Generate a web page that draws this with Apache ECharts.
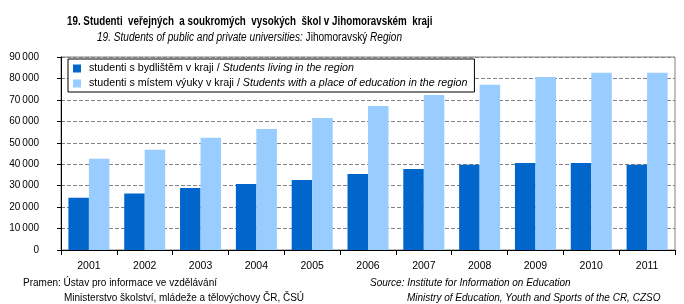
<!DOCTYPE html>
<html><head><meta charset="utf-8">
<script src="https://cdn.jsdelivr.net/npm/echarts@6/dist/echarts.min.js"></script>
<style>html,body{margin:0;padding:0;background:#fff}#c{width:684px;height:304px}</style>
</head><body><div id="c"></div>
<script>
var years = ['2001','2002','2003','2004','2005','2006','2007','2008','2009','2010','2011'];
var living = [24400, 26300, 28900, 30800, 32600, 35400, 37800, 39800, 40600, 40600, 39800];
var educated = [42600, 46800, 52400, 56400, 61600, 67200, 72300, 77100, 80700, 82600, 82600];
var yTicks = [0, 10000, 20000, 30000, 40000, 50000, 60000, 70000, 80000, 90000];
var seriesNames = ['studenti s bydlištěm v kraji', 'studenti s místem výuky v kraji'];
var seriesNamesEn = ['Students living in the region', 'Students with a place of education in the region'];

var F = '"Liberation Sans", Arial, sans-serif';
var chart = echarts.init(document.getElementById('c'));
chart.setOption({
  animation: false,
  backgroundColor: '#fff',
  textStyle: {fontFamily: F},
  legend: {
    orient: 'vertical', left: 68, top: 59,
    itemWidth: 8, itemHeight: 8, itemGap: 4,
    padding: [4, 7, 3, 5],
    borderColor: '#000', borderWidth: 1, borderRadius: 0,
    backgroundColor: '#fff',
    icon: 'rect',
    data: seriesNames,
    formatter: function (name) {
      var i = seriesNames.indexOf(name);
      return '{n|' + name + ' / }{i|' + seriesNamesEn[i] + '}';
    },
    textStyle: {
      padding: [0, 0, 0, 3],
      rich: {
        n: {fontFamily: F, fontSize: 10.7, color: '#000'},
        i: {fontFamily: F, fontSize: 10.7, fontStyle: 'italic', color: '#000'}
      }
    }
  },
  grid: {left: 61, right: 9, top: 57, bottom: 54, show: true, borderColor: '#808080', borderWidth: 1, containLabel: false},
  xAxis: {
    type: 'category', data: years,
    axisLine: {lineStyle: {color: '#000', width: 1}},
    axisTick: {show: true, length: 5, lineStyle: {color: '#000'}},
    axisLabel: {fontFamily: F, fontSize: 10.5, color: '#000', margin: 11}
  },
  yAxis: {
    type: 'value', min: 0, max: 90000, interval: 10000,
    axisLine: {show: true, lineStyle: {color: '#000'}},
    axisTick: {show: true, length: 4, lineStyle: {color: '#000'}},
    axisLabel: {fontFamily: F, fontSize: 10, color: '#000', margin: 22,
      formatter: function (v) { return v === 0 ? '0' : String(v).replace(/\B(?=(\d{3})+(?!\d))/g, '\u2009'); }},
    splitLine: {lineStyle: {color: '#808080', type: [4, 2], width: 1}}
  },
  series: [{
    name: seriesNames[0], type: 'bar', data: living,
    itemStyle: {color: '#0066CC'}, barWidth: 20.5, barGap: '0%'
  }, {
    name: seriesNames[1], type: 'bar', data: educated,
    itemStyle: {color: '#99CCFF'}, barWidth: 20.5, barGap: '0%'
  }],
  graphic: [
    {type: 'text', x: 67, y: 22, scaleX: 0.785, style: {
      text: '19. Studenti  veřejných  a soukromých  vysokých  škol v Jihomoravském  kraji',
      font: 'bold 12.5px ' + F, fill: '#000', verticalAlign: 'middle'}},
    {type: 'text', x: 97, y: 38, scaleX: 0.807, style: {
      text: '{i|19. Students of public and private universities: }{n|Jihomoravský }{i|Region}',
      verticalAlign: 'middle',
      rich: {
        i: {fontFamily: F, fontSize: 12.5, fontStyle: 'italic', fill: '#000'},
        n: {fontFamily: F, fontSize: 12.5, fill: '#000'}
      }}},
    {type: 'text', left: 23, top: 278, style: {text: 'Pramen: Ústav pro informace ve vzdělávání', font: '10px ' + F, fill: '#000'}},
    {type: 'text', left: 64, top: 293, style: {text: 'Ministerstvo školství, mládeže a tělovýchovy ČR, ČSÚ', font: '10px ' + F, fill: '#000'}},
    {type: 'text', left: 370, top: 278, style: {text: 'Source: Institute for Information on Education', font: 'italic 10px ' + F, fill: '#000'}},
    {type: 'text', left: 407, top: 293, style: {text: 'Ministry of Education, Youth and Sports of the CR, CZSO', font: 'italic 10px ' + F, fill: '#000'}}
  ]
});
</script></body></html>
